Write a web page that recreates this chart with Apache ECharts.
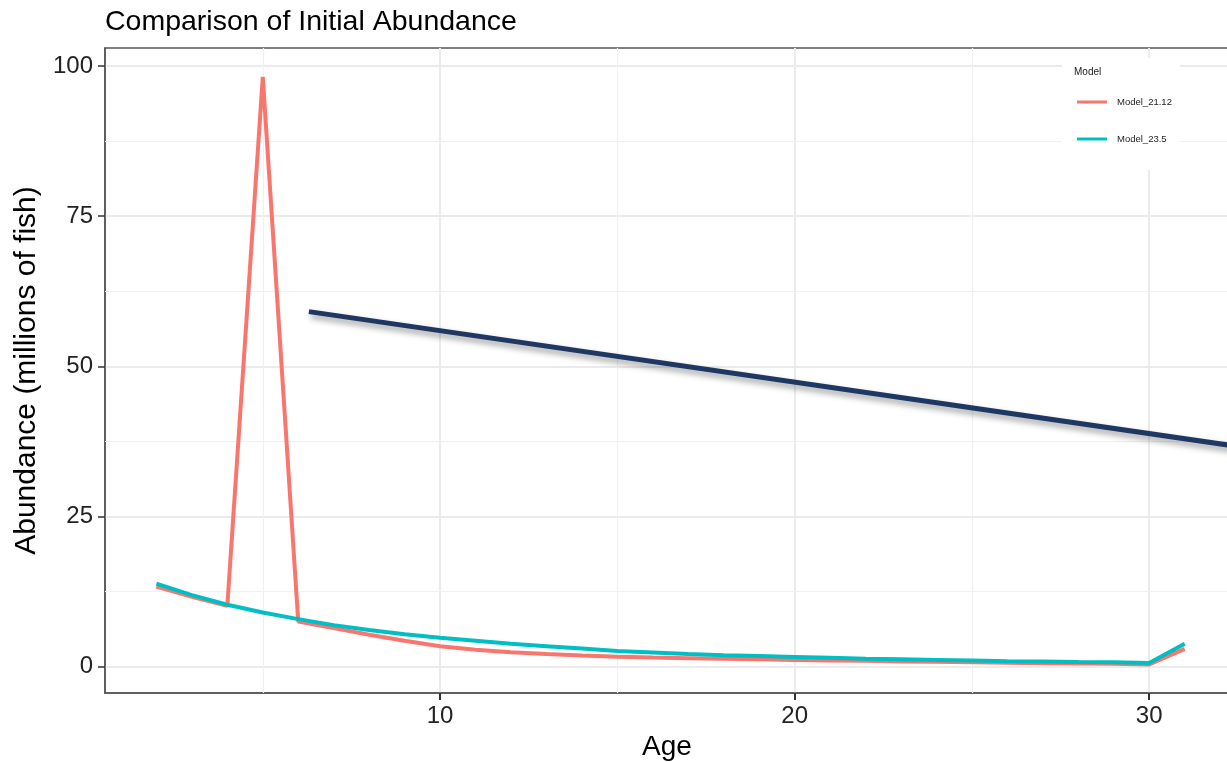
<!DOCTYPE html>
<html>
<head>
<meta charset="utf-8">
<title>Comparison of Initial Abundance</title>
<script src="https://cdn.jsdelivr.net/npm/echarts@6/dist/echarts.min.js"></script>
<style>
  html, body { margin: 0; padding: 0; background: #fff; }
  #chart { width: 1227px; height: 762px; }
</style>
</head>
<body>
<div id="chart"></div>
<script>
// ages and abundance (millions of fish)
const ages = [2, 3, 4, 5, 6, 7, 8, 9, 10, 11, 12, 13, 14, 15, 16, 17, 18, 19, 20,
  21, 22, 23, 24, 25, 26, 27, 28, 29, 30, 31];
const model2112 = [13.3, 11.6, 10.1, 98.2, 7.5, 6.4, 5.3, 4.3, 3.4, 2.8, 2.4, 2.1, 1.85, 1.65, 1.5,
  1.4, 1.3, 1.2, 1.1, 1.0, 0.95, 0.85, 0.8, 0.7, 0.65, 0.55, 0.5, 0.45, 0.35, 2.95];
const model235 = [13.8, 11.9, 10.3, 9.0, 7.9, 6.9, 6.1, 5.4, 4.8, 4.3, 3.8, 3.4, 3.0, 2.6, 2.35,
  2.1, 1.9, 1.75, 1.6, 1.45, 1.3, 1.2, 1.1, 1.0, 0.9, 0.85, 0.75, 0.7, 0.6, 3.8];

// dark straight line drawn over the plot
const overlayX = [6.3, 32.45];
const overlayY = [59.1, 36.7];

// tick positions
const xMajor = [10, 20, 30];
const xMinor = [5, 15, 25];
const yMajor = [0, 25, 50, 75, 100];
const yMinor = [12.5, 37.5, 62.5, 87.5];

const font = "'Liberation Sans', Arial, Helvetica, sans-serif";

function pairs(xs, ys) {
  return xs.map(function (x, i) { return [x, ys[i]]; });
}

let myChart = echarts.init(document.getElementById('chart'));

let minorLines = xMinor.map(function (v) { return { xAxis: v }; })
  .concat(yMinor.map(function (v) { return { yAxis: v }; }));

let option = {
  animation: false,
  backgroundColor: '#fff',
  textStyle: { fontFamily: font },
  title: [
    {
      text: 'Comparison of Initial Abundance',
      left: 105, top: 8,
      padding: 0,
      textStyle: { fontFamily: font, fontSize: 28.5, fontWeight: 'normal', color: '#000' }
    },
    {
      text: 'Model',
      left: 1074, top: 67,
      padding: 0,
      z: 10,
      textStyle: { fontFamily: font, fontSize: 10, fontWeight: 'normal', color: '#222' }
    }
  ],
  legend: {
    data: ['Model_21.12', 'Model_23.5'],
    orient: 'vertical',
    left: 1062, top: 58,
    padding: [37, 8, 24, 15],
    backgroundColor: '#fff',
    z: 6,
    icon: 'rect',
    itemWidth: 30,
    itemHeight: 3,
    itemGap: 23,
    itemTextGap: 10,
    textStyle: { fontFamily: font, fontSize: 9.5, lineHeight: 14, color: '#222', padding: [0, 0, 0, 5] }
  },
  grid: {
    left: 105, right: -2, top: 48, bottom: 69,
    outerBoundsMode: 'none',
    containLabel: false,
    show: true,
    borderColor: '#555',
    borderWidth: 1.5,
    backgroundColor: 'transparent'
  },
  xAxis: {
    type: 'value',
    min: 0.55, max: 32.25,
    position: 'bottom',
    name: 'Age',
    nameLocation: 'middle',
    nameGap: 38,
    nameTextStyle: { fontFamily: font, fontSize: 28, color: '#000' },
    axisLine: { show: true, onZero: false, lineStyle: { color: '#555', width: 1.5 } },
    axisTick: { show: true, inside: false, length: 7, customValues: xMajor, lineStyle: { color: '#333', width: 2 } },
    axisLabel: { customValues: xMajor, margin: 11, fontSize: 24, color: '#222', fontFamily: font },
    splitLine: { show: true, lineStyle: { color: '#ebebeb', width: 2 } }
  },
  yAxis: {
    type: 'value',
    min: -4.4, max: 103,
    position: 'left',
    name: 'Abundance (millions of fish)',
    nameLocation: 'middle',
    nameGap: 58,
    nameTextStyle: { fontFamily: font, fontSize: 30, color: '#000' },
    axisLine: { show: true, onZero: false, lineStyle: { color: '#555', width: 1.5 } },
    axisTick: { show: true, inside: false, length: 7, customValues: yMajor, lineStyle: { color: '#333', width: 1.5 } },
    axisLabel: { customValues: yMajor, margin: 12, fontSize: 24, color: '#222', fontFamily: font },
    splitLine: { show: true, lineStyle: { color: '#ebebeb', width: 2 } }
  },
  series: [
    {
      name: 'minor-grid',
      type: 'line',
      data: [],
      silent: true,
      z: 1,
      markLine: {
        silent: true,
        z: 1,
        symbol: 'none',
        label: { show: false },
        lineStyle: { color: '#f0f0f0', width: 1.2, type: 'solid' },
        data: minorLines
      }
    },
    {
      name: 'Model_21.12',
      type: 'line',
      data: pairs(ages, model2112),
      showSymbol: false,
      z: 3,
      color: '#F8766D',
      lineStyle: { color: '#F8766D', width: 4 }
    },
    {
      name: 'Model_23.5',
      type: 'line',
      data: pairs(ages, model235),
      showSymbol: false,
      z: 3,
      color: '#00BFC4',
      lineStyle: { color: '#00BFC4', width: 4 }
    },
    {
      name: 'overlay',
      type: 'line',
      data: pairs(overlayX, overlayY),
      showSymbol: false,
      z: 4,
      lineStyle: {
        color: '#1f3763',
        width: 5,
        shadowColor: 'rgba(0,0,0,0.4)',
        shadowBlur: 6,
        shadowOffsetX: 2,
        shadowOffsetY: 4
      }
    }
  ]
};

myChart.setOption(option);
</script>
</body>
</html>
